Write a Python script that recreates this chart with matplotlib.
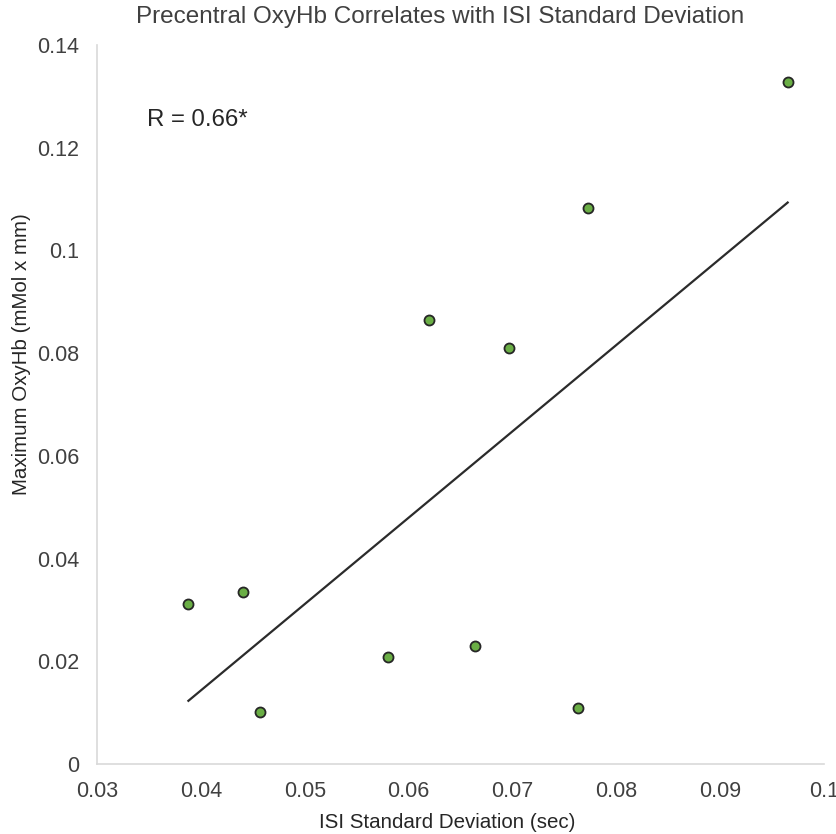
import numpy as np
import matplotlib
matplotlib.use("Agg")
import matplotlib.pyplot as plt

plt.rcParams['font.family'] = ['Liberation Sans', 'DejaVu Sans']

# ISI standard deviation (sec) vs maximum OxyHb (mMol x mm)
isi_sd = [0.0388, 0.0441, 0.0457, 0.0580, 0.0620, 0.0664, 0.0697, 0.0763, 0.0773, 0.0965]
max_oxyhb = [0.0312, 0.0335, 0.0101, 0.0208, 0.0865, 0.0230, 0.0810, 0.0109, 0.1083, 0.1328]

x_ticks = [0.03, 0.04, 0.05, 0.06, 0.07, 0.08, 0.09, 0.1]
x_labels = ["0.03", "0.04", "0.05", "0.06", "0.07", "0.08", "0.09", "0.1"]
y_ticks = [0, 0.02, 0.04, 0.06, 0.08, 0.1, 0.12, 0.14]
y_labels = ["0", "0.02", "0.04", "0.06", "0.08", "0.1", "0.12", "0.14"]

fig = plt.figure(figsize=(8.37, 8.34), dpi=100)
ax = fig.add_axes([0.1159, 0.0839, 0.8686, 0.8621])

# linear trendline
x = np.array(isi_sd)
y = np.array(max_oxyhb)
slope, intercept = np.polyfit(x, y, 1)
xs = np.array([x.min(), x.max()])
ax.plot(xs, slope * xs + intercept, color='#2b2b2b', lw=1.6, zorder=2)

ax.scatter(isi_sd, max_oxyhb, s=52, color='#6aae45', edgecolors='#262626',
           linewidths=1.3, zorder=3)

ax.set_xlim(0.03, 0.1)
ax.set_ylim(0, 0.14)
ax.set_xticks(x_ticks)
ax.set_xticklabels(x_labels)
ax.set_yticks(y_ticks)
ax.set_yticklabels(y_labels)
ax.tick_params(length=0, labelsize=15.5, colors='#404040')
ax.tick_params(axis='x', pad=12)
ax.tick_params(axis='y', pad=13)

for side in ['top', 'right']:
    ax.spines[side].set_visible(False)
for side in ['left', 'bottom']:
    ax.spines[side].set_color('#d9d9d9')
    ax.spines[side].set_linewidth(1.2)

# title and axis labels placed like the original (slightly off-centre)
fig.text(440 / 837, 1 - 17 / 834, "Precentral OxyHb Correlates with ISI Standard Deviation",
         fontsize=17.5, color='#404040', ha='center', va='center')
fig.text(447 / 837, 1 - 822 / 834, "ISI Standard Deviation (sec)",
         fontsize=14.8, color='#262626', ha='center', va='center')
fig.text(22 / 837, 1 - 354 / 834, "Maximum OxyHb (mMol x mm)",
         fontsize=14.8, color='#262626', ha='center', va='center', rotation=90)

ax.text(0.0348, 0.1254, "R = 0.66*", fontsize=17.3, color='#262626', va='center')

fig.savefig("out.png", dpi=100)
